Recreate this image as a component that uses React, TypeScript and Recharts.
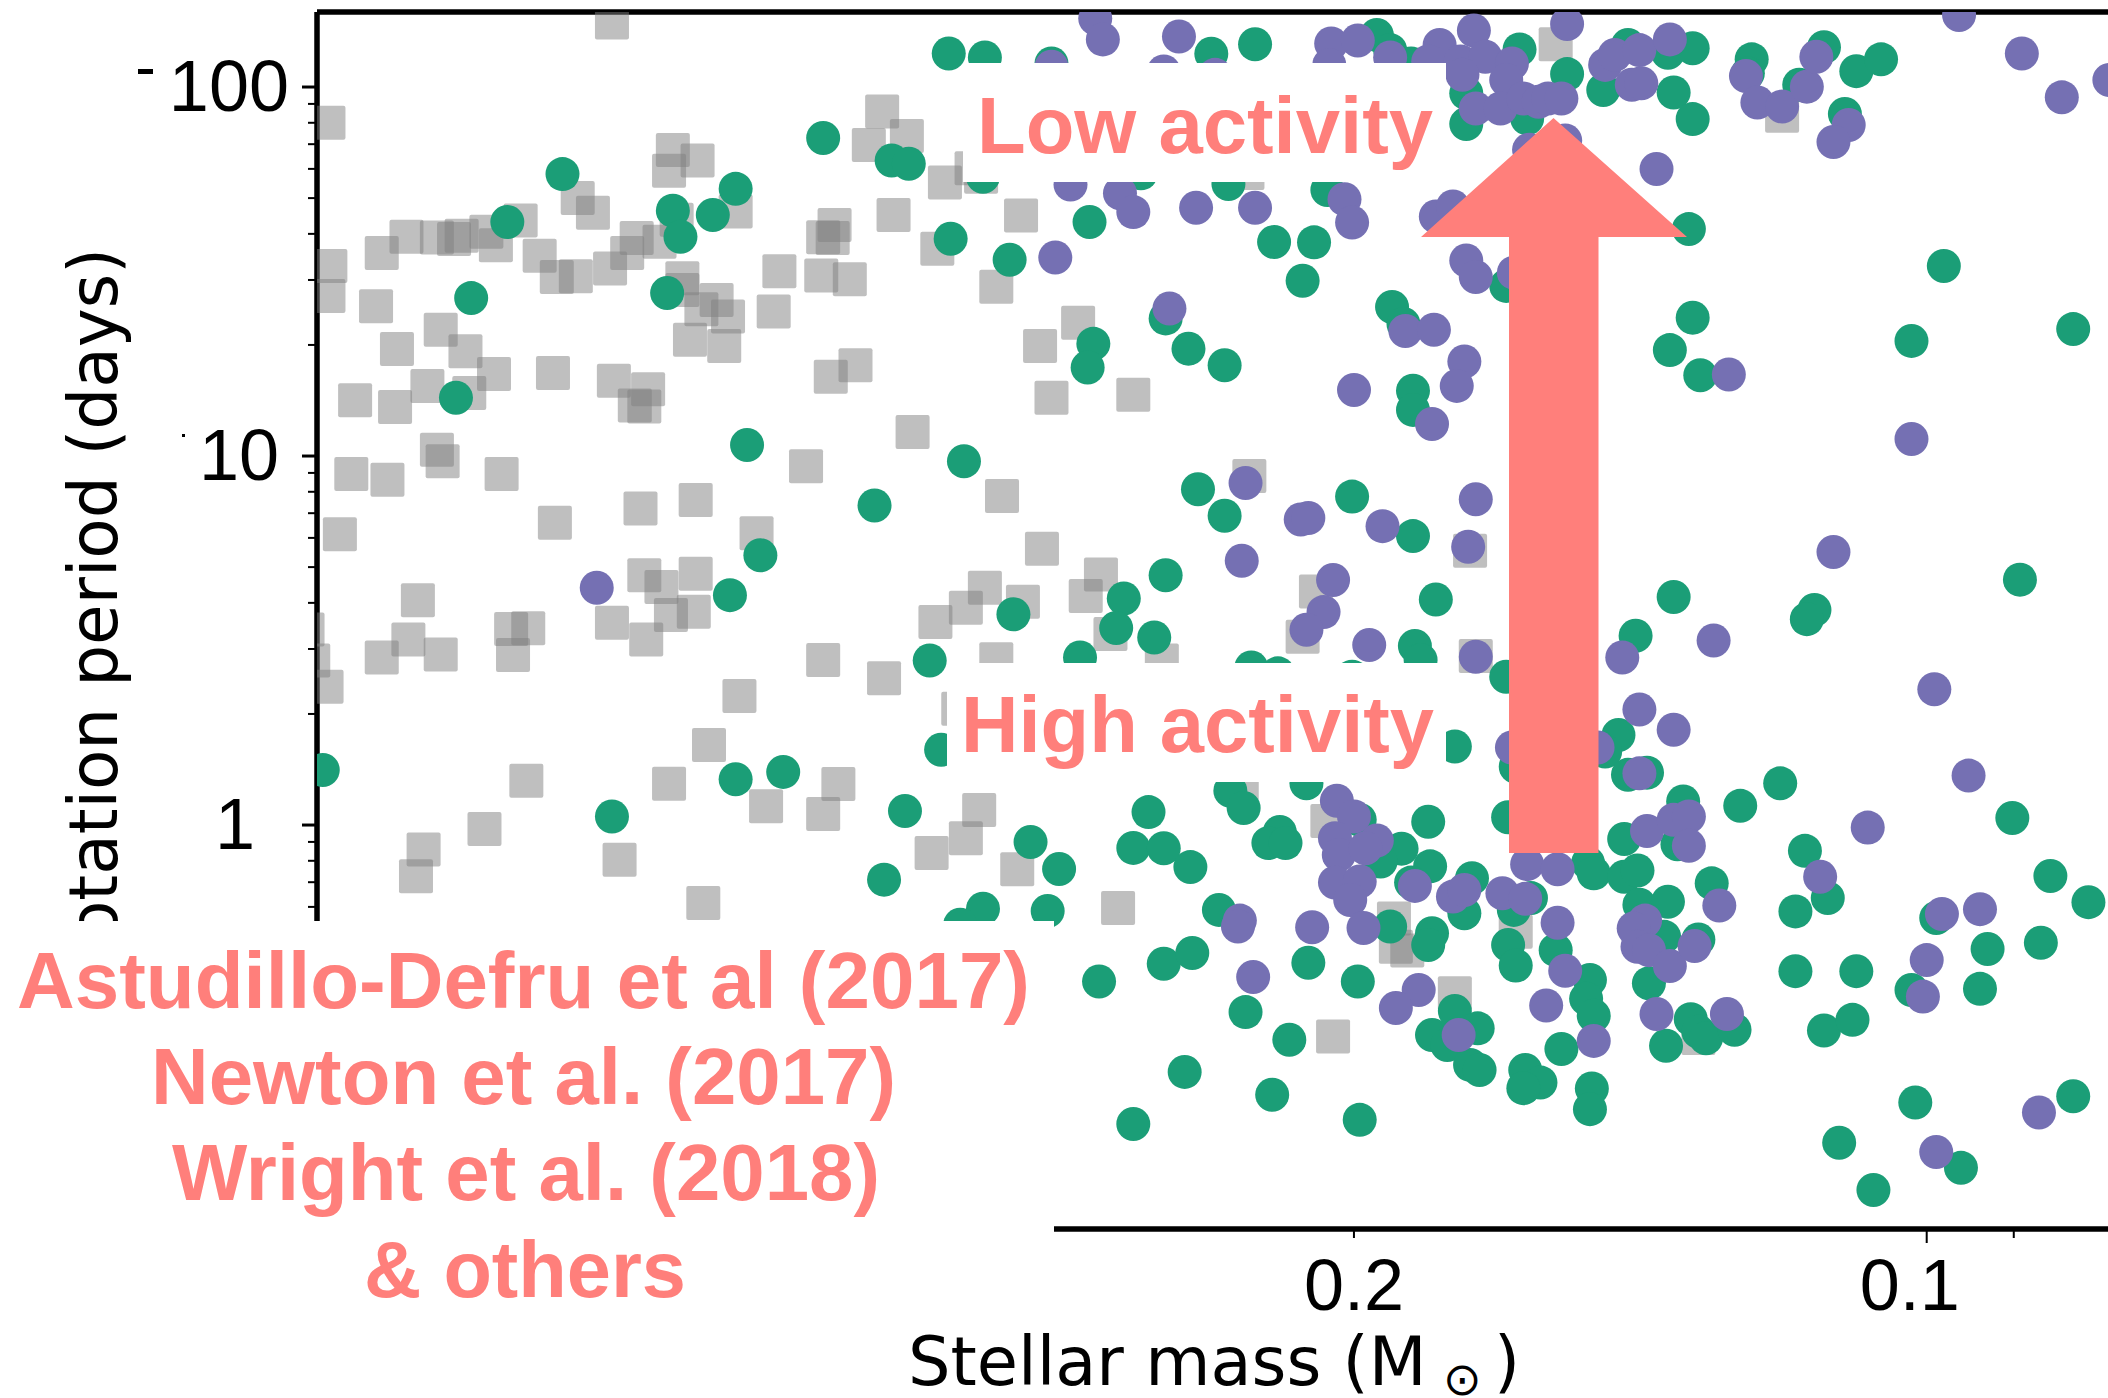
import { ScatterChart, Scatter, XAxis, YAxis, ReferenceLine } from 'recharts';

// all pairs are [log10 mass, log10 period]
const grayStars: number[][] = [
  [-.309,2.175],[-.160,1.903],[-.451,1.934],[-.444,1.843],[-.464,1.867],[-.341,1.829],[-.354,1.801],[-.339,1.773],
  [-.291,1.699],[-.299,1.659],[-.261,1.638],[-.374,1.663],[-.343,1.640],[-.457,1.653],[-.426,1.626],[-.420,1.593],
  [-.425,1.591],[-.201,1.594],[-.217,1.592],[-.226,1.588],[-.230,1.597],[-.243,1.608],[-.248,1.571],[-.188,1.550],
  [-.161,1.515],[-.271,1.543],[-.322,1.591],[-.334,1.581],[-.317,1.550],[-.308,1.508],[-.280,1.485],[-.290,1.487],
  [-.160,1.434],[-.185,1.406],[-.397,1.501],[-.419,1.489],[-.434,1.479],[-.346,1.482],[-.346,1.450],[-.364,1.423],
  [-.356,1.398],[-.370,1.378],[-.394,1.392],[-.350,1.315],[-.368,1.298],[-.219,1.342],[-.196,1.290],[-.232,1.284],
  [-.247,1.222],[-.278,1.225],[-.212,1.190],[-.234,1.171],[-.174,1.151],[-.195,1.133],[-.310,1.204],[-.328,1.181],
  [-.321,1.137],[-.326,1.134],[-.437,1.246],[-.424,1.215],[-.467,1.065],[-.217,1.017],[-.220,.986],
  [-.172,.951],[-.191,.936],[-.251,.951],[-.411,.972],[-.353,.881],[-.324,.858],[-.279,.819],[-.385,.791],[-.166,.788],
  [-.326,.677],[-.335,.645],[-.353,.681],[-.352,.578],[-.340,.569],[-.309,.548],[-.327,.503],[-.207,.609],[-.202,.503],
  [-.188,.454],[-.219,.462],[-.256,.531],[-.265,.533],[-.257,.461],[-.149,.530],[-.152,.446],[-.159,.375],[-.420,.447],
  [-.452,.398],[-.376,.350],[-.360,.217],[-.339,.112],[-.264,.120],[-.390,.051],[-.428,.111],[-.420,.030],[-.242,-.011],
  [-.210,-.066],[-.206,-.139],[-.313,-.094],[-.357,-.211],
  [-.484,1.741],[-.480,1.562],[-.524,1.652],[-.511,1.459],[-.554,1.361],[-.534,1.298],[-.540,1.158],[-.583,1.166],
  [-.503,1.757],[-.498,1.780],[-.643,1.767],[-.805,2.116],[-.924,1.922],
  [-.644,.946],[-.514,.892],[-.535,.749],[-.505,.643],[-.495,.589],[-.525,.605],[-.479,.550],[-.511,.449],[-.566,.679],
  [-.558,.621],[-.571,.518],[-.598,.446],[-.679,.633],[-.672,.510],[-.760,.743],[-.763,.458],[-.502,.041],[-.495,-.036],
  [-.477,-.076],[-.522,-.120],[-.575,-.225],[-.640,.113],[-.685,.011],[-.491,.315],
  [-.720,-.253],[-.721,-.330],[-.727,-.340],[-.784,-.289],[-.752,-.456],[-.688,-.573],[-.880,-.577],
];

const greenStars: number[][] = [
  [-.420,1.862],[-.456,1.801],[-.465,1.792],[-.283,1.764],[-.254,1.634],[-.374,1.724],[-.341,1.665],[-.362,1.653],
  [-.345,1.594],[-.235,1.428],[-.338,1.442],[-.227,1.158],[-.380,1.030],
  [-.447,.866],[-.387,.731],[-.371,.623],[-.157,.149],[-.374,.124],[-.399,.144],[-.309,.023],[-.463,.038],[-.452,-.148],
  [-.486,2.091],[-.505,2.080],[-.540,2.064],[-.504,1.757],[-.487,1.589],[-.518,1.532],[-.560,1.634],[-.624,2.090],
  [-.647,2.116],[-.711,2.141],[-.657,1.580],[-.678,1.579],[-.672,1.475],[-.587,1.766],[-.633,1.737],[-.685,1.721],
  [-.600,1.373],[-.612,1.291],[-.631,1.246],[-.562,1.304],[-.559,1.240],[-.719,1.404],[-.725,1.358],[-.730,1.177],
  [-.730,1.125],[-.494,.986],[-.779,1.461],[-.758,1.900],[-.758,1.983],[-.718,2.100],[-.729,2.064],
  [-.786,2.102],[-.811,2.035],[-.843,2.114],[-.830,1.992],[-.864,2.093],[-.877,2.105],[-.867,1.985],[-.877,1.913],
  [-.790,1.915],[-.908,2.075],[-.906,2.037],[-.933,2.006],[-.946,2.108],[-.963,2.043],[-.976,2.075],[-.957,1.927],
  [-.875,1.615],[-1.009,1.515],[-.877,1.375],[-.865,1.287],[-.881,1.219],[-.992,1.312],[-1.077,1.344],
  [-.617,.910],[-.631,.838],[-.698,.890],[-.730,.783],[-.600,.677],[-.578,.614],[-.520,.571],[-.574,.534],[-.594,.508],
  [-.476,.446],[-.555,.454],[-.645,.427],[-.659,.411],[-.698,.402],[-.742,.611],[-.731,.485],[-.734,.447],[-.779,.402],
  [-.482,.204],[-.752,.213],[-.591,.035],[-.634,.093],[-.641,.046],[-.674,.113],[-.583,-.062],[-.599,-.063],[-.613,-.114],
  [-.660,-.019],[-.654,-.049],[-.663,-.049],[-.529,-.046],[-.544,-.119],[-.738,.009],[-.702,.014],[-.724,-.064],
  [-.713,-.099],[-.739,-.112],[-.729,-.156],[-.761,-.144],[-.780,.021],[-.628,-.230],[-.504,-.227],[-.492,-.270],
  [-.538,-.233],[-.718,-.275],[-.740,-.293],[-.757,-.239],[-.783,-.230],
  [-.867,.618],[-.847,.513],[-1.049,.665],[-.941,.583],[-.937,.558],[-.838,.244],[-.831,.199],[-.843,.136],[-.853,.142],
  [-.872,.064],[-.902,.052],[-.923,.113],[-1.045,.019],[-.841,-.038],[-.869,-.052],[-.936,-.070],[-.887,-.158],
  [-.948,-.198],[-.931,-.234],[-1.065,-.138],[-1.085,-.209],[-.822,-.103],[-.825,-.131],[-.841,-.140],[-.848,-.123],
  [-.849,-.216],[-.864,-.208],[-.792,-.198],[-1.005,-.252],[-.784,.158],
  [-.565,-.424],[-.599,-.376],[-.614,-.347],[-.642,-.507],[-.665,-.582],[-.675,-.373],[-.701,-.424],[-.738,-.325],
  [-.780,-.325],[-.784,-.381],[-.805,-.339],[-.823,-.420],[-.821,-.471],[-.825,-.517],[-.752,-.504],[-.764,-.551],
  [-.740,-.569],[-.748,-.596],[-.760,-.650],[-.765,-.664],[-.789,-.664],[-.797,-.698],[-.788,-.713],[-.824,-.714],
  [-.823,-.770],[-.808,-.607],[-.610,-.669],[-.656,-.731],[-.583,-.810],[-.702,-.799],
  [-.854,-.429],[-.862,-.303],[-.880,-.310],[-.876,-.526],[-.880,-.560],[-.884,-.578],[-.899,-.555],[-.863,-.598],
  [-.931,-.396],[-.963,-.396],[-.946,-.557],[-.961,-.528],[-.992,-.447],[-1.032,-.336],[-1.060,-.319],[-1.028,-.444],
  [-.994,-.752],[-.954,-.861],[-1.018,-.929],[-.972,-.989],[-1.077,-.735],
];

const purpleStars: number[][] = [
  [-.301,.643],
  [-.563,2.186],[-.567,2.129],[-.607,2.137],[-.540,2.055],[-.599,2.042],[-.626,2.033],[-.687,2.118],[-.701,2.126],
  [-.718,2.080],[-.686,2.060],[-.744,2.114],[-.762,2.153],[-.738,2.069],[-.755,2.069],[-.768,2.082],[-.782,2.064],
  [-.756,2.033],[-.779,2.019],[-.763,1.942],[-.776,1.942],[-.550,1.736],[-.576,1.712],[-.583,1.661],[-.616,1.673],
  [-.647,1.673],[-.694,1.696],[-.698,1.633],[-.542,1.538],[-.742,1.649],[-.751,1.676],[-.758,1.530],[-.763,1.485],
  [-.783,1.497],[-.602,1.400],[-.726,1.339],[-.741,1.342],[-.757,1.256],[-.753,1.190],[-.699,1.179],[-.740,1.087],
  [-.811,2.171],[-.788,1.969],[-.796,1.960],[-.801,1.969],[-.808,1.969],[-.810,1.855],[-.791,1.830],[-.831,2.060],
  [-.836,2.087],[-.849,2.100],[-.865,2.129],[-.845,2.006],[-.850,2.010],[-.858,1.778],[-.905,2.030],[-.911,1.958],
  [-.924,1.947],[-.937,2.001],[-.942,2.082],[-.959,1.897],[-.951,1.851],[-1.017,2.195],[-1.050,2.091],[-1.071,1.972],
  [-1.096,2.019],[-.896,1.221],[-.992,1.046],
  [-.642,.927],[-.671,.828],[-.675,.832],[-.714,.810],[-.763,.883],[-.759,.754],[-.640,.716],[-.688,.664],[-.683,.577],
  [-.674,.529],[-.707,.488],[-.763,.456],[-.690,.066],[-.699,.023],[-.689,-.036],[-.691,-.081],[-.711,-.042],
  [-.705,-.063],[-.689,-.156],[-.702,-.153],[-.697,-.203],[-.731,-.165],[-.751,-.194],[-.757,-.176],[-.777,-.185],
  [-.639,-.259],[-.638,-.275],[-.677,-.277],[-.704,-.279],[-.646,-.412],[-.733,-.447],[-.721,-.496],[-.754,-.569],
  [-.806,-.265],[-.810,-.395],[-.800,-.489],[-.825,-.585],
  [-.951,.740],[-.888,.500],[-.840,.454],[-1.004,.368],[-.849,.313],[-.867,.258],[-1.022,.134],[-.827,.210],[-.782,.210],
  [-.849,.140],[-.969,-.007],[-.853,-.016],[-.867,.014],[-.875,.023],[-.875,-.056],[-.944,-.140],[-.790,-.106],
  [-.806,-.120],[-.789,-.200],[-.891,-.218],[-1.008,-.241],[-1.028,-.228],
  [-.852,-.259],[-.846,-.280],[-.848,-.330],[-.854,-.339],[-.865,-.382],[-.878,-.328],[-.858,-.512],[-.895,-.512],
  [-1.000,-.366],[-.998,-.465],[-1.005,-.886],[-1.059,-.779],
];

const massTicks = [0.09, 0.1, 0.2, 0.3, 0.4, 0.5, 0.6, 0.7];
const periodTicks = [0.6, 0.7, 0.8, 0.9, 1, 2, 3, 4, 5, 6, 7, 8, 9, 10, 20, 30, 40, 50, 60, 70, 80, 90, 100];
const citations = ['Astudillo-Defru et al (2017)', 'Newton et al. (2017)', 'Wright et al. (2018)', '& others'];

const MASS_DOMAIN = [0.0803, 0.7015];
const PERIOD_DOMAIN = [0.0804, 159.7];
const SALMON = '#ff7f7b';
const SANS = '"Liberation Sans", Arial, sans-serif';
const DEJAVU = '"DejaVu Sans", sans-serif';

const toPoints = (rows: number[][]) => rows.map(([m, p]) => ({ mass: 10 ** m, period: 10 ** p }));

const circle = (fill: string) => (props: any) => <circle cx={props.cx} cy={props.cy} r={17} fill={fill} />;
const square = (props: any) => (
  <rect x={props.cx - 17} y={props.cy - 17} width={34} height={34} rx={2} fill="#7f7f7f" fillOpacity={0.5} />
);

function MassTick({ x, y, payload }: any) {
  const v = payload.value;
  return (
    <g>
      <line x1={x} x2={x} y1={y} y2={y + (v === 0.1 ? 14 : 9)} stroke="#000" strokeWidth={2} />
      {(v === 0.1 || v === 0.2) && (
        <text x={x + (v === 0.1 ? -17 : 0)} y={y + 81} textAnchor="middle" fontFamily={SANS} fontSize={72} fill="#000">
          {v}
        </text>
      )}
    </g>
  );
}

const periodLabelRight: Record<number, number> = { 1: 255, 10: 279, 100: 289 };

function PeriodTick({ x, y, payload }: any) {
  const v = payload.value;
  const major = v === 1 || v === 10 || v === 100;
  return (
    <g>
      <line x1={x - (major ? 15 : 9)} x2={x} y1={y} y2={y} stroke="#000" strokeWidth={major ? 3 : 2} />
      {major && (
        <text x={periodLabelRight[v]} y={y + 24} textAnchor="end" fontFamily={SANS} fontSize={72} fill="#000">
          {v}
        </text>
      )}
    </g>
  );
}

function Annotations() {
  return (
    <svg width={2108} height={1398} style={{ position: 'absolute', left: 0, top: 0 }}>
      <text
        transform="translate(117,984) rotate(-90)"
        fontFamily={DEJAVU}
        fontSize={67}
        textLength={736}
        lengthAdjust="spacingAndGlyphs"
        fill="#000"
      >
        Rotation period (days)
      </text>
      <rect x={138} y={69} width={15} height={5} fill="#000" />
      <rect x={182} y={434} width={3} height={3} fill="#000" />

      <rect x={0} y={921} width={1054} height={477} fill="#fff" />
      <rect x={963} y={63} width={483} height={119} fill="#fff" />
      <rect x={947} y={663} width={499} height={119} fill="#fff" />

      <polygon
        points="1553.5,118 1687,237 1598.5,237 1598.5,853 1509,853 1509,237 1421,237"
        fill={SALMON}
      />

      <g fontFamily={SANS} fontWeight="bold" fontSize={80} fill={SALMON}>
        <text x={977} y={153} textLength={456} lengthAdjust="spacingAndGlyphs">Low activity</text>
        <text x={961} y={752} textLength={473} lengthAdjust="spacingAndGlyphs">High activity</text>
        <text x={17} y={1008} textLength={1013} lengthAdjust="spacingAndGlyphs">{citations[0]}</text>
        <text x={151} y={1104} textLength={745} lengthAdjust="spacingAndGlyphs">{citations[1]}</text>
        <text x={172} y={1200} textLength={708} lengthAdjust="spacingAndGlyphs">{citations[2]}</text>
        <text x={364} y={1297} textLength={322} lengthAdjust="spacingAndGlyphs">{citations[3]}</text>
      </g>

      <g fontFamily={DEJAVU} fontSize={67} fill="#000">
        <text x={908} y={1385}>Stellar mass (M</text>
        <text x={1443} y={1395} fontSize={46}>⊙</text>
        <text x={1494} y={1385}>)</text>
      </g>
    </svg>
  );
}

export default function App() {
  return (
    <div style={{ position: 'absolute', left: 0, top: 0, width: 2108, height: 1398, background: '#fff' }}>
      <ScatterChart width={2108} height={1398} margin={{ top: 12, right: 0, bottom: 0, left: 0 }}>
        <XAxis
          type="number"
          dataKey="mass"
          scale="log"
          domain={MASS_DOMAIN}
          allowDataOverflow
          reversed
          height={169}
          ticks={massTicks}
          interval={0}
          tick={<MassTick />}
          tickLine={false}
          tickSize={0}
          tickMargin={0}
          axisLine={{ stroke: '#000', strokeWidth: 5.5 }}
        />
        <YAxis
          type="number"
          dataKey="period"
          scale="log"
          domain={PERIOD_DOMAIN}
          allowDataOverflow
          width={317}
          ticks={periodTicks}
          interval={0}
          tick={<PeriodTick />}
          tickLine={false}
          tickSize={0}
          tickMargin={0}
          axisLine={{ stroke: '#000', strokeWidth: 5.5 }}
        />
        <ReferenceLine y={PERIOD_DOMAIN[1]} stroke="#000" strokeWidth={5.5} />
        <Scatter data={toPoints(grayStars)} shape={square} isAnimationActive={false} />
        <Scatter data={toPoints(greenStars)} shape={circle('#1b9e77')} isAnimationActive={false} />
        <Scatter data={toPoints(purpleStars)} shape={circle('#7570b3')} isAnimationActive={false} />
      </ScatterChart>
      <Annotations />
    </div>
  );
}
